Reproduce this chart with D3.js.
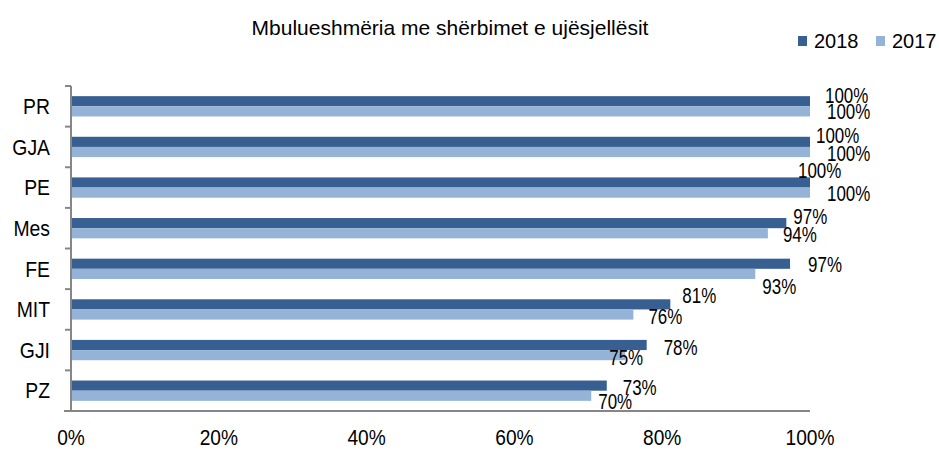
<!DOCTYPE html>
<html>
<head>
<meta charset="utf-8">
<script src="https://cdn.jsdelivr.net/npm/d3@7"></script>
<style>
  body { margin: 0; background: #fff; }
  svg text { font-family: "Liberation Sans", Arial, sans-serif; fill: #000; }
</style>
</head>
<body>
<div id="chart"></div>
<script>
// data
var categories = ["PR", "GJA", "PE", "Mes", "FE", "MIT", "GJI", "PZ"];
var seriesNames = ["2018", "2017"];
var values2018 = [100, 100, 100, 96.8, 97.3, 81.1, 77.9, 72.5];
var values2017 = [100, 100, 100, 94.3, 92.6, 76.1, 75, 70.4];
var xTicks = [0, 20, 40, 60, 80, 100];
var title = "Mbulueshmëria me shërbimet e ujësjellësit";

// layout: hand-placed label nudges [dx, dy] per category, per series (like the original)
var nudge2018 = [[15, -6], [6, -7], [-12, -12], [7, -7], [18, 1], [12, -9], [17, 2], [16, 2]];
var nudge2017 = [[17, 0], [17, 1], [17, 1], [15, 1], [7, 12], [15, 2], [-16, 2], [7, 6]];

var colors = ["#385f91", "#95b3d7"];

var W = 939, H = 450;
var margin = {top: 86, right: 129, bottom: 39, left: 71};
var w = W - margin.left - margin.right,
    h = H - margin.top - margin.bottom;

// squeeze text horizontally (original uses a narrow font)
function narrow(sel, k) {
    sel.each(function () {
        var L = this.getComputedTextLength();
        d3.select(this).attr("textLength", L * k).attr("lengthAdjust", "spacingAndGlyphs");
    });
}

var svgBG = d3.select("#chart").append("svg").attr("width", W).attr("height", H);
var svg = svgBG.append("g").attr("transform", "translate(" + margin.left + "," + margin.top + ")");

var x = d3.scaleLinear().domain([0, 100]).range([0, w]);
var y = d3.scaleBand().domain(categories).range([0, h]).paddingInner(0.5).paddingOuter(0.25);
var ySub = d3.scaleBand().domain(seriesNames).range([0, y.bandwidth()]);

var rows = categories.map(function (c, i) {
    return {cat: c, vals: [values2018[i], values2017[i]], nudges: [nudge2018[i], nudge2017[i]]};
});

// bars
var groups = svg.selectAll(".grp").data(rows).enter().append("g")
    .attr("class", "grp")
    .attr("transform", function (d) { return "translate(0," + y(d.cat) + ")"; });

seriesNames.forEach(function (s, k) {
    groups.append("rect")
        .attr("x", 0)
        .attr("y", ySub(s))
        .attr("width", function (d) { return x(d.vals[k]); })
        .attr("height", ySub.bandwidth())
        .attr("fill", colors[k]);
});

// data labels
seriesNames.forEach(function (s, k) {
    groups.append("text")
        .attr("x", function (d) { return x(d.vals[k]) + d.nudges[k][0]; })
        .attr("y", function (d) { return ySub(s) + ySub.bandwidth() / 2 + d.nudges[k][1]; })
        .attr("dy", "0.35em")
        .attr("font-size", 22)
        .text(function (d) { return Math.round(d.vals[k]) + "%"; })
        .call(narrow, 0.77);
});

// y axis (ticks between categories)
var step = y.step();
svg.append("line").attr("x1", 0).attr("x2", 0).attr("y1", 0).attr("y2", h)
    .attr("stroke", "#868686").attr("stroke-width", 2);
svg.selectAll(".ytick").data(d3.range(categories.length)).enter().append("line")
    .attr("x1", -6).attr("x2", 0)
    .attr("y1", function (i) { return y(categories[i]) - y.paddingOuter() * step; })
    .attr("y2", function (i) { return y(categories[i]) - y.paddingOuter() * step; })
    .attr("stroke", "#868686").attr("stroke-width", 2);
svg.selectAll(".ylab").data(categories).enter().append("text")
    .attr("x", -21)
    .attr("y", function (d) { return y(d) + y.bandwidth() / 2; })
    .attr("dy", "0.35em")
    .attr("text-anchor", "end")
    .attr("font-size", 22)
    .text(function (d) { return d; })
    .call(narrow, 0.88);

// x axis
svg.append("line").attr("x1", -7).attr("x2", w).attr("y1", h).attr("y2", h)
    .attr("stroke", "#868686").attr("stroke-width", 2);
svg.selectAll(".xlab").data(xTicks).enter().append("text")
    .attr("x", function (d) { return x(d); })
    .attr("y", h + 26)
    .attr("dy", "0.35em")
    .attr("text-anchor", "middle")
    .attr("font-size", 22)
    .text(function (d) { return d + "%"; })
    .call(narrow, 0.87);

// title
svgBG.append("text").attr("x", 450).attr("y", 35)
    .attr("text-anchor", "middle").attr("font-size", 21)
    .text(title);

// legend
var legend = svgBG.selectAll(".leg").data(seriesNames).enter().append("g")
    .attr("transform", function (d, i) { return "translate(" + (798 + i * 78) + ",36)"; });
legend.append("rect").attr("width", 9).attr("height", 10)
    .attr("fill", function (d, i) { return colors[i]; });
legend.append("text").attr("x", 16).attr("y", 5).attr("dy", "0.35em")
    .attr("font-size", 20)
    .text(function (d) { return d; });
</script>
</body>
</html>
